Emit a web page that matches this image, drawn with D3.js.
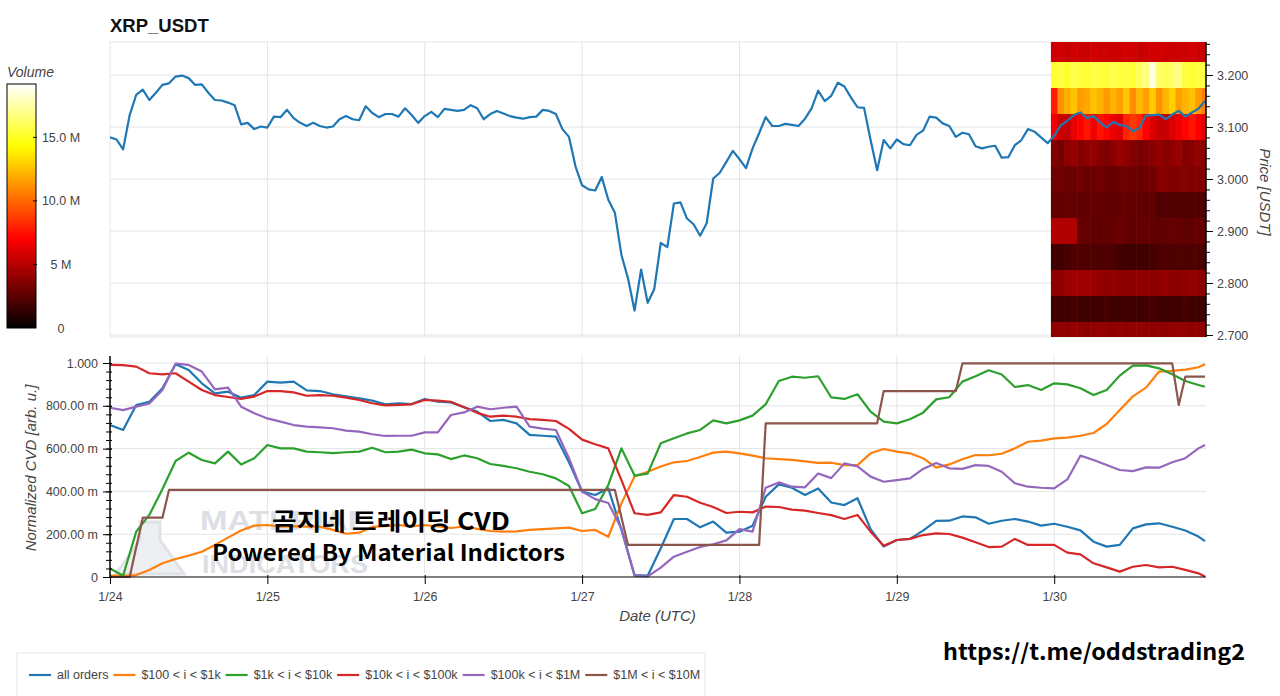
<!DOCTYPE html>
<html><head><meta charset="utf-8">
<script src="https://cdn.jsdelivr.net/npm/d3@7"></script>
<style>
html,body{margin:0;padding:0;background:#fff;}
svg{display:block;font-family:"Liberation Sans",Arial,sans-serif;}
</style></head>
<body>
<svg id="chart" width="1280" height="696"></svg>
<script>
// ---------------- DATA ----------------
const dayHours = [0,24,48,72,96,120,144];
const dayLabels = ["1/24","1/25","1/26","1/27","1/28","1/29","1/30"];

const priceTicks = [2.7,2.8,2.9,3.0,3.1,3.2];
const priceTickLabels = ["2.700","2.800","2.900","3.000","3.100","3.200"];

const cvdTicks = [0,0.2,0.4,0.6,0.8,1.0];
const cvdTickLabels = ["0","200.00 m","400.00 m","600.00 m","800.00 m","1.000"];

const volumeTicks = [0,5e6,10e6,15e6];
const volumeTickLabels = ["0","5 M","10.0 M","15.0 M"];

// hourly price, h0 .. h167
const price = [
3.080,3.076,3.057,3.123,3.162,3.172,3.152,3.166,3.181,3.184,
3.197,3.199,3.194,3.181,3.182,3.166,3.152,3.151,3.147,3.142,
3.105,3.108,3.096,3.101,3.099,3.120,3.119,3.133,3.117,3.108,
3.102,3.108,3.102,3.099,3.101,3.115,3.121,3.115,3.113,3.140,
3.127,3.119,3.125,3.125,3.120,3.136,3.123,3.108,3.121,3.129,
3.119,3.135,3.133,3.131,3.133,3.142,3.136,3.115,3.125,3.131,
3.126,3.121,3.118,3.116,3.119,3.120,3.133,3.131,3.125,3.096,
3.081,3.024,2.988,2.980,2.978,3.004,2.960,2.935,2.854,2.809,
2.747,2.826,2.762,2.788,2.877,2.869,2.953,2.955,2.924,2.913,
2.891,2.915,3.001,3.012,3.033,3.054,3.038,3.021,3.059,3.088,
3.119,3.102,3.102,3.106,3.104,3.102,3.116,3.136,3.170,3.150,
3.160,3.185,3.178,3.157,3.138,3.137,3.075,3.017,3.075,3.059,
3.076,3.067,3.065,3.085,3.093,3.120,3.118,3.107,3.102,3.081,
3.089,3.086,3.063,3.059,3.062,3.064,3.041,3.042,3.065,3.075,
3.096,3.091,3.080,3.069,3.083,3.103,3.112,3.123,3.128,3.117,
3.121,3.109,3.099,3.110,3.104,3.102,3.092,3.098,3.122,3.123,
3.124,3.115,3.124,3.131,3.120,3.128,3.135,3.150];

// CVD sample hours: every 2h from 0 to 166, then 167
const cvdHours = [0,2,4,6,8,10,12,14,16,18,20,22,24,26,28,30,32,34,36,38,40,42,44,46,48,50,52,54,56,58,
60,62,64,66,68,70,72,74,76,78,80,82,84,86,88,90,92,94,96,98,100,102,104,106,108,110,112,114,116,118,
120,122,124,126,128,130,132,134,136,138,140,142,144,146,148,150,152,154,156,158,160,162,164,166,167];

const cvdAllOrders = [
0.710,0.687,0.804,0.819,0.882,0.994,0.967,0.905,0.858,0.866,
0.838,0.850,0.913,0.908,0.913,0.872,0.869,0.854,0.844,0.835,
0.824,0.807,0.812,0.808,0.832,0.819,0.816,0.793,0.773,0.729,
0.734,0.718,0.664,0.660,0.656,0.536,0.399,0.383,0.414,0.220,
0.009,0.006,0.134,0.271,0.271,0.232,0.259,0.207,0.212,0.240,
0.375,0.433,0.417,0.383,0.414,0.348,0.336,0.368,0.224,0.142,
0.173,0.178,0.217,0.262,0.263,0.283,0.279,0.249,0.263,0.271,
0.259,0.240,0.249,0.235,0.218,0.165,0.142,0.150,0.227,0.246,
0.251,0.235,0.217,0.189,0.168];

const cvd100to1k = [
0.006,0.005,0.009,0.033,0.064,0.084,0.100,0.118,0.150,0.184,
0.217,0.240,0.243,0.235,0.238,0.235,0.235,0.220,0.202,0.207,
0.234,0.238,0.243,0.237,0.243,0.237,0.229,0.236,0.225,0.215,
0.212,0.213,0.220,0.224,0.227,0.231,0.215,0.220,0.188,0.344,
0.470,0.492,0.516,0.536,0.542,0.561,0.581,0.586,0.578,0.567,
0.555,0.551,0.547,0.540,0.533,0.534,0.523,0.523,0.578,0.598,
0.586,0.578,0.555,0.511,0.526,0.550,0.570,0.569,0.576,0.601,
0.632,0.637,0.648,0.651,0.660,0.673,0.715,0.780,0.844,0.885,
0.960,0.963,0.969,0.980,0.994];

const cvd1kto10k = [
0.040,0.006,0.212,0.290,0.411,0.542,0.581,0.547,0.531,0.586,
0.526,0.555,0.617,0.601,0.601,0.586,0.583,0.579,0.583,0.586,
0.604,0.583,0.586,0.595,0.578,0.573,0.551,0.568,0.555,0.528,
0.519,0.508,0.492,0.480,0.461,0.425,0.298,0.318,0.430,0.601,
0.474,0.483,0.625,0.648,0.671,0.687,0.732,0.718,0.732,0.754,
0.807,0.916,0.936,0.931,0.938,0.839,0.832,0.854,0.773,0.726,
0.718,0.737,0.768,0.830,0.840,0.913,0.938,0.966,0.946,0.888,
0.897,0.874,0.905,0.900,0.882,0.850,0.874,0.941,0.988,0.989,
0.975,0.947,0.916,0.897,0.889];

const cvd10kto100k = [
0.991,0.990,0.983,0.952,0.947,0.952,0.913,0.874,0.850,0.841,
0.832,0.843,0.869,0.869,0.863,0.847,0.850,0.847,0.838,0.827,
0.812,0.802,0.804,0.807,0.827,0.824,0.819,0.793,0.767,0.749,
0.754,0.749,0.738,0.734,0.729,0.692,0.642,0.620,0.601,0.453,
0.298,0.290,0.302,0.383,0.375,0.347,0.327,0.299,0.305,0.302,
0.329,0.327,0.315,0.310,0.299,0.289,0.271,0.290,0.212,0.146,
0.173,0.178,0.196,0.204,0.201,0.184,0.162,0.140,0.142,0.178,
0.150,0.150,0.150,0.114,0.106,0.064,0.045,0.025,0.048,0.056,
0.045,0.048,0.033,0.017,0.002];

const cvd100kto1M = [
0.791,0.780,0.796,0.811,0.874,0.997,0.991,0.960,0.877,0.885,
0.796,0.765,0.741,0.726,0.710,0.703,0.699,0.695,0.684,0.679,
0.667,0.659,0.660,0.660,0.676,0.676,0.757,0.769,0.796,0.784,
0.791,0.796,0.703,0.693,0.687,0.555,0.399,0.364,0.346,0.227,
0.006,0.003,0.044,0.095,0.118,0.140,0.153,0.171,0.224,0.212,
0.417,0.442,0.422,0.419,0.484,0.462,0.531,0.517,0.469,0.445,
0.453,0.461,0.505,0.533,0.508,0.505,0.523,0.519,0.492,0.438,
0.422,0.417,0.414,0.456,0.567,0.547,0.523,0.500,0.495,0.512,
0.511,0.536,0.555,0.601,0.617];

// $1M < i < $10M is step-like: vertices read at their own hours
const cvd1Mto10MHours = [0,3,5,8,9,77,79,99,100,117,118,129,130,162,163,164,167];
const cvd1Mto10M      = [0,0,0.277,0.277,0.407,0.407,0.150,0.150,0.718,0.718,0.869,0.869,0.998,0.998,0.804,0.936,0.936];

const seriesNames = ["all orders","$100 < i < $1k","$1k < i < $10k","$10k < i < $100k","$100k < i < $1M","$1M < i < $10M"];

// volume profile heatmap (1/30), rows = price bins, columns = hours 144..167 (millions)
const heatPriceBins = [3.25,3.20,3.15,3.10,3.05,3.00,2.95,2.90,2.85,2.80,2.75,2.70];
const heatHours = [144,145,146,147,148,149,150,151,152,153,154,155,156,157,158,159,160,161,162,163,164,165,166,167];
const heatVolumeM = [
[5.6,5.8,5.5,5.7,5.6,5.5,5.8,5.6,5.7,5.5,5.6,5.8,5.7,5.5,5.6,5.7,5.8,5.6,5.5,5.7,5.6,5.8,5.5,5.6],
[15.3,15.6,15.2,15.8,15.5,15.3,15.7,15.5,15.4,15.9,15.5,15.6,15.3,16.2,16.8,18.6,16.4,16.0,16.5,16.9,15.5,15.3,15.6,15.4],
[7.8,11.2,12.0,12.6,11.5,11.8,12.6,12.1,11.4,12.2,11.6,12.7,11.0,12.3,11.6,12.8,11.2,12.2,13.0,11.6,12.1,12.6,11.5,10.6],
[6.6,5.6,5.4,6.4,7.0,7.6,6.6,7.5,7.1,6.5,6.1,8.0,8.6,8.1,7.0,6.0,5.5,5.4,6.1,6.5,7.1,7.6,7.0,6.4],
[3.6,3.2,3.9,4.1,3.6,3.9,4.1,3.7,3.5,3.8,4.2,3.9,3.6,3.3,3.5,3.8,4.0,3.7,3.9,4.2,3.6,3.8,4.0,3.7],
[3.0,3.1,2.9,3.0,3.1,2.8,3.0,3.1,2.9,2.8,3.0,3.1,3.0,2.9,3.0,3.1,3.6,3.7,3.5,3.6,3.7,3.5,3.6,3.6],
[2.7,2.7,2.8,2.7,2.6,2.7,2.8,2.7,2.7,2.6,2.7,2.8,2.7,2.7,2.6,2.7,2.2,2.2,2.3,2.2,2.2,2.3,2.2,2.2],
[4.9,4.9,4.8,4.8,2.7,2.8,2.7,2.6,2.7,2.8,2.9,2.7,2.6,2.7,2.8,2.7,2.6,2.7,2.8,2.7,2.6,2.7,2.8,2.7],
[1.8,1.8,1.9,2.2,2.2,2.1,2.2,2.1,2.2,2.1,1.8,1.8,1.7,1.8,1.8,1.9,2.1,2.2,2.1,2.2,2.1,2.2,2.1,2.1],
[3.9,3.9,4.3,4.4,4.3,4.4,4.3,4.0,3.9,4.0,3.9,3.8,3.9,4.0,3.9,3.8,3.9,4.0,3.9,3.8,3.9,4.0,3.9,3.8],
[1.8,1.7,1.8,1.9,1.8,1.7,1.8,1.8,1.9,1.8,1.7,1.8,1.8,1.7,1.8,1.9,1.8,1.7,1.8,1.8,1.9,1.8,1.7,1.8],
[3.9,4.0,3.9,4.1,4.0,3.9,4.0,4.1,4.0,3.9,4.0,3.9,4.0,4.1,4.0,3.9,4.0,3.9,4.0,4.1,4.0,3.9,4.0,3.9]
];

// ---------------- DRAWING ----------------
const svg = d3.select("#chart");
const colors = d3.schemeCategory10;
const gridColor = "#e5e5e5", tickText = "#444";
const FONT = '"Liberation Sans",Arial,sans-serif';

const L = 110, R = 1205;
const x = d3.scaleLinear().domain([0,167]).range([L,R]);
const topT = 42, topB = 337;
const yP = d3.scaleLinear().domain([2.6962,3.2635]).range([topB,topT]);
const botT = 356, botB = 577;
const yC = d3.scaleLinear().domain([0,1]).range([577,363]);

function hot(t){
  t = Math.max(0,Math.min(1,t));
  const r = Math.min(1,t/0.365), g = Math.max(0,Math.min(1,(t-0.365)/0.381)), b = Math.max(0,Math.min(1,(t-0.746)/0.254));
  return d3.rgb(255*r,255*g,255*b).toString();
}
const volColor = d3.scaleSequential(hot).domain([0,19.2e6]);

// defs
const defs = svg.append("defs");
defs.append("clipPath").attr("id","clipTop").append("rect").attr("x",L).attr("y",topT).attr("width",R+1-L).attr("height",topB-topT);
defs.append("clipPath").attr("id","clipBot").append("rect").attr("x",L).attr("y",botT).attr("width",R+1-L).attr("height",botB-botT+1);

// ---- Title
svg.append("text").attr("x",110).attr("y",32).text("XRP_USDT")
  .style("font-family",FONT).style("font-size","18.5px").style("font-weight","bold").attr("fill","#111");

// ---- Top chart
const gTop = svg.append("g");
gTop.append("rect").attr("x",L).attr("y",topT).attr("width",R+1-L).attr("height",topB-topT)
  .attr("fill","#fff").attr("stroke",gridColor);
gTop.selectAll(".hg").data(priceTicks).join("line")
  .attr("x1",L).attr("x2",R+1).attr("y1",d=>yP(d)).attr("y2",d=>yP(d)).attr("stroke",gridColor);
gTop.selectAll(".vg").data(dayHours.slice(1)).join("line")
  .attr("x1",d=>x(d)).attr("x2",d=>x(d)).attr("y1",topT).attr("y2",topB).attr("stroke",gridColor);

// heatmap
const gHeat = gTop.append("g").attr("clip-path","url(#clipTop)");
heatPriceBins.forEach((p,ri)=>{
  gHeat.selectAll(null).data(heatHours).join("rect")
    .attr("x",h=>x(h-0.5)).attr("width",h=>x(h+0.5)-x(h-0.5)+0.6)
    .attr("y",yP(p+0.025)).attr("height",yP(p-0.025)-yP(p+0.025)+0.6)
    .attr("fill",(h,ci)=>volColor(heatVolumeM[ri][ci]*1e6));
});

// price line
gTop.append("path").attr("clip-path","url(#clipTop)")
  .datum(price).attr("fill","none").attr("stroke",colors[0]).attr("stroke-width",2.2)
  .attr("stroke-linejoin","round")
  .attr("d",d3.line().x((d,i)=>x(i)).y(d=>yP(d)));

// right axis
const axR = svg.append("g").attr("transform",`translate(${R+1},0)`);
axR.call(d3.axisRight(yP).tickValues(d3.range(2.70,3.2601,0.02)).tickSize(4).tickFormat("").tickSizeOuter(0));
axR.append("g").call(d3.axisRight(yP).tickValues(priceTicks).tickSize(7).tickSizeOuter(0)
   .tickFormat((d,i)=>priceTickLabels[i]));
axR.selectAll("path.domain").attr("d",`M0,${topT}V${topB}`).attr("stroke","#000");
axR.selectAll("line").attr("stroke","#000");
axR.selectAll("text").attr("x",11).attr("fill",tickText).style("font-family",FONT).style("font-size","12.5px");
svg.append("text").attr("transform","translate(1260,192) rotate(90)").attr("text-anchor","middle")
  .text("Price [USDT]").style("font-family",FONT).style("font-size","15px").style("font-style","italic").attr("fill",tickText);

// ---- Colorbar
const cbTop = 84, cbBot = 328, cbX = 7, cbW = 29;
const yV = d3.scaleLinear().domain([0,19.2e6]).range([cbBot,cbTop]);
const grad = defs.append("linearGradient").attr("id","cbGrad").attr("x1","0").attr("y1","1").attr("x2","0").attr("y2","0");
d3.range(0,1.0001,0.02).forEach(t=>grad.append("stop").attr("offset",t).attr("stop-color",hot(t)));
svg.append("rect").attr("x",cbX).attr("y",cbTop).attr("width",cbW).attr("height",cbBot-cbTop)
  .attr("fill","url(#cbGrad)").attr("stroke","#000").attr("stroke-width",1);
svg.selectAll(".cbt").data(volumeTicks.slice(1)).join("line")
  .attr("x1",cbX+cbW-3).attr("x2",cbX+cbW+1).attr("y1",d=>yV(d)).attr("y2",d=>yV(d)).attr("stroke","#000");
svg.selectAll(".cbl").data(volumeTicks).join("text")
  .attr("x",61).attr("y",d=>yV(d)+4.5).attr("text-anchor","middle")
  .text((d,i)=>volumeTickLabels[i]).attr("fill",tickText)
  .style("font-family",FONT).style("font-size","12.5px");
svg.append("text").attr("x",7).attr("y",77).text("Volume")
  .style("font-family",FONT).style("font-size","14px").style("font-style","italic").attr("fill",tickText);

// ---- Bottom chart
const gBot = svg.append("g");
gBot.selectAll(".hg2").data(cvdTicks.slice(1)).join("line")
  .attr("x1",L).attr("x2",R+1).attr("y1",d=>yC(d)).attr("y2",d=>yC(d)).attr("stroke",gridColor);
gBot.selectAll(".vg2").data(dayHours.slice(1)).join("line")
  .attr("x1",d=>x(d)).attr("x2",d=>x(d)).attr("y1",botT).attr("y2",botB).attr("stroke",gridColor);

// faint Material Indicators watermark
const wm = gBot.append("g").attr("fill","#d9dce1").attr("opacity",0.9);
wm.append("path").attr("d","M140,522 L160,522 L160,540 L184,574 L116,574 L140,540 Z")
  .attr("fill","#eceef1").attr("stroke","#dcdfe4").attr("stroke-width",3);
wm.append("text").attr("x",200).attr("y",530).text("MATERIAL").attr("textLength",168).attr("lengthAdjust","spacingAndGlyphs")
  .style("font-family",FONT).style("font-size","27px").style("font-weight","bold");
wm.append("text").attr("x",202).attr("y",573).text("INDICATORS").attr("textLength",166).attr("lengthAdjust","spacingAndGlyphs")
  .style("font-family",FONT).style("font-size","26px").style("font-weight","bold");

// series lines
const gLines = gBot.append("g").attr("clip-path","url(#clipBot)");
const cvdSeries = [cvdAllOrders,cvd100to1k,cvd1kto10k,cvd10kto100k,cvd100kto1M];
const lineGen = d3.line().x((d,i)=>x(cvdHours[i])).y(d=>yC(d));
cvdSeries.forEach((s,i)=>{
  gLines.append("path").datum(s).attr("fill","none").attr("stroke",colors[i]).attr("stroke-width",2.2)
    .attr("stroke-linejoin","round").attr("d",lineGen);
});
gLines.append("path").datum(cvd1Mto10M).attr("fill","none").attr("stroke",colors[5]).attr("stroke-width",2.2)
  .attr("stroke-linejoin","round").attr("d",d3.line().x((d,i)=>x(cvd1Mto10MHours[i])).y(d=>yC(d)));

// left axis
const axL = svg.append("g").attr("transform",`translate(${L},0)`);
axL.call(d3.axisLeft(yC).tickValues(d3.range(0,1.0001,0.04)).tickSize(4).tickFormat("").tickSizeOuter(0));
axL.append("g").call(d3.axisLeft(yC).tickValues(cvdTicks).tickSize(7).tickSizeOuter(0).tickFormat((d,i)=>cvdTickLabels[i]));
axL.selectAll("path.domain").attr("d",`M0,${botT}V${botB}`).attr("stroke","#000");
axL.selectAll("line").attr("stroke","#000").attr("x1",2);
axL.selectAll("text").attr("x",-12).attr("fill",tickText).style("font-family",FONT).style("font-size","12.5px");
svg.append("text").attr("transform","translate(36,468) rotate(-90)").attr("text-anchor","middle")
  .text("Normalized CVD [arb. u.]").style("font-family",FONT).style("font-size","15px").style("font-style","italic").attr("fill",tickText);

// bottom axis
const axB = svg.append("g").attr("transform",`translate(0,${botB})`);
axB.call(d3.axisBottom(x).tickValues(dayHours).tickSize(7).tickSizeOuter(0).tickFormat((d,i)=>dayLabels[i]));
axB.selectAll("path.domain").attr("d",`M${L},0H${R+1}`).attr("stroke","#000");
axB.selectAll("line").attr("stroke","#000").attr("y1",-2);
axB.selectAll("text").attr("y",24).attr("dy",null).attr("fill",tickText).style("font-family",FONT).style("font-size","12.5px");
svg.append("text").attr("x",(L+R)/2).attr("y",621).attr("text-anchor","middle")
  .text("Date (UTC)").style("font-family",FONT).style("font-size","15px").style("font-style","italic").attr("fill",tickText);

// overlay texts
const KFONT = '"Noto Sans CJK KR","Noto Sans",sans-serif';
svg.append("text").attr("x",272).attr("y",530).text("곰지네 트레이딩 CVD")
  .attr("textLength",238).attr("lengthAdjust","spacingAndGlyphs")
  .style("font-family",KFONT).style("font-size","24px").style("font-weight","bold").attr("fill","#000");
svg.append("text").attr("x",212).attr("y",561).text("Powered By Material Indictors")
  .attr("textLength",353).attr("lengthAdjust","spacingAndGlyphs")
  .style("font-family",KFONT).style("font-size","22px").style("font-weight","bold").attr("fill","#000");
svg.append("text").attr("x",943).attr("y",660).text("https://t.me/oddstrading2")
  .attr("textLength",302).attr("lengthAdjust","spacingAndGlyphs")
  .style("font-family",KFONT).style("font-size","22px").style("font-weight","bold").attr("fill","#000");

// ---- Legend
const gLeg = svg.append("g");
gLeg.append("rect").attr("x",17).attr("y",653).attr("width",688).attr("height",50)
  .attr("fill","#fff").attr("stroke",gridColor);
let lx = 29;
seriesNames.forEach((n,i)=>{
  gLeg.append("line").attr("x1",lx).attr("x2",lx+22).attr("y1",675).attr("y2",675)
    .attr("stroke",colors[i]).attr("stroke-width",2.2);
  const t = gLeg.append("text").attr("x",lx+28).attr("y",679).text(n).attr("fill",tickText)
    .style("font-family",FONT).style("font-size","12.5px");
  lx += 28 + t.node().getComputedTextLength() + 5;
});
</script>
</body></html>
